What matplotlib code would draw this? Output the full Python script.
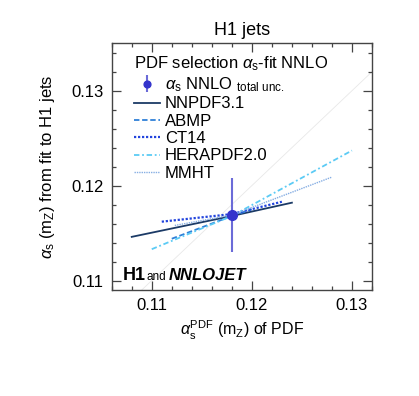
import matplotlib
matplotlib.use("Agg")
import matplotlib.pyplot as plt

plt.rcParams['font.family'] = ['Liberation Sans', 'DejaVu Sans']
plt.rcParams['mathtext.fontset'] = 'custom'
plt.rcParams['mathtext.rm'] = 'Liberation Sans'
plt.rcParams['mathtext.it'] = 'Liberation Sans:italic'
plt.rcParams['mathtext.bf'] = 'Liberation Sans:bold'

# Data
nnpdf_x = [0.108, 0.118, 0.124]
nnpdf_y = [0.1146, 0.1168, 0.1182]
abmp_x = [0.112, 0.118, 0.120]
abmp_y = [0.1144, 0.1168, 0.1175]
ct14_x = [0.111, 0.118, 0.123]
ct14_y = [0.1162, 0.1170, 0.1183]
hera_x = [0.110, 0.118, 0.130]
hera_y = [0.1133, 0.1168, 0.1237]
mmht_x = [0.1123, 0.118, 0.128]
mmht_y = [0.1158, 0.1169, 0.1209]
fit_x = [0.118]
fit_y = [0.1169]
fit_err = [0.0039]
diag = [0.100, 0.140]

fig = plt.figure(figsize=(4.19, 3.96), dpi=100)
ax = fig.add_axes([0.2666, 0.2677, 0.8878 - 0.2666, 0.8907 - 0.2677])

ax.plot(diag, diag, color='#e8e8e8', lw=0.6, zorder=1)
l1, = ax.plot(nnpdf_x, nnpdf_y, color='#1b3a66', lw=1.3, ls='-', label='NNPDF3.1', zorder=3)
l2, = ax.plot(abmp_x, abmp_y, color='#2f80d8', lw=1.3, ls=(0, (3, 1.5)), label='ABMP', zorder=3)
l3, = ax.plot(ct14_x, ct14_y, color='#2244dd', lw=1.6, ls=(0, (1, 0.8)), label='CT14', zorder=3)
l4, = ax.plot(hera_x, hera_y, color='#5ccbf5', lw=1.3, ls=(0, (3, 1.5, 1, 1.5)), label='HERAPDF2.0', zorder=3)
l5, = ax.plot(mmht_x, mmht_y, color='#86aee3', lw=1.0, ls=(0, (1, 0.7)), label='MMHT', zorder=3)
eb = ax.errorbar(fit_x, fit_y, yerr=fit_err, fmt='o', color='#3434cc', ecolor='#6b6bd8',
                 elinewidth=1.5, ms=7, capsize=0, zorder=5,
                 label=r'$\alpha_{\mathrm{s}}$ NNLO $_{\mathrm{total\ unc.}}$')

ax.set_xlim(0.106, 0.132)
ax.set_ylim(0.109, 0.135)
ax.set_xticks([0.11, 0.12, 0.13])
ax.set_xticklabels(['0.11', '0.12', '0.13'])
ax.set_yticks([0.11, 0.12, 0.13])
ax.set_yticklabels(['0.11', '0.12', '0.13'])
ax.set_xticks([0.106 + 0.002 * i for i in range(14)], minor=True)
ax.set_yticks([0.110 + 0.002 * i for i in range(13)], minor=True)
ax.tick_params(which='both', direction='in', top=True, right=True, colors='#444444',
               labelcolor='black', labelsize=12)
ax.tick_params(which='major', length=6.5, width=0.9, pad=6)
ax.tick_params(which='minor', length=3.2, width=0.9)
for s in ax.spines.values():
    s.set_color('#444444')
    s.set_linewidth(1.0)

ax.set_xlabel(r'$\alpha_{\mathrm{s}}^{\mathrm{PDF}}$ $(\mathrm{m}_{\mathrm{Z}})$ of PDF', fontsize=11.5, labelpad=4)
ax.set_ylabel(r'$\alpha_{\mathrm{s}}$ $(\mathrm{m}_{\mathrm{Z}})$ from fit to H1 jets', fontsize=12, labelpad=10)
ax.set_title('H1 jets', fontsize=13, pad=6)

leg = ax.legend(handles=[eb, l1, l2, l3, l4, l5], loc='upper left',
                bbox_to_anchor=(0.085, 0.955), frameon=False, fontsize=12,
                title=r'PDF selection $\alpha_{\mathrm{s}}$-fit NNLO', title_fontsize=12,
                alignment='left', handlelength=1.6, handletextpad=0.25, labelspacing=0.14,
                borderaxespad=0, borderpad=0, markerscale=0.7)

ax.text(0.042, 0.041, 'H1', transform=ax.transAxes, fontsize=13, fontweight='bold', va='baseline')
ax.text(0.132, 0.041, 'and', transform=ax.transAxes, fontsize=8.5, va='baseline')
ax.text(0.218, 0.041, 'NNLOJET', transform=ax.transAxes, fontsize=12, fontweight='bold',
        style='italic', va='baseline')

fig.savefig('out.png', dpi=100)
